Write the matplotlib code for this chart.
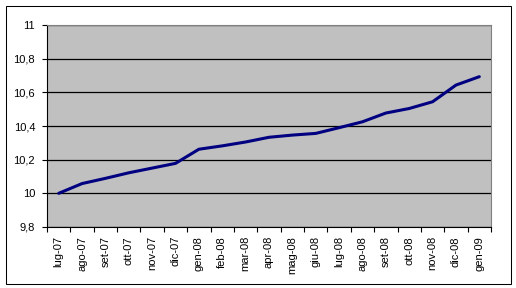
import matplotlib
matplotlib.use("Agg")
import matplotlib.pyplot as plt
from matplotlib.patches import Rectangle
import numpy as np

months = ["lug-07", "ago-07", "set-07", "ott-07", "nov-07", "dic-07", "gen-08",
          "feb-08", "mar-08", "apr-08", "mag-08", "giu-08", "lug-08", "ago-08",
          "set-08", "ott-08", "nov-08", "dic-08", "gen-09"]
values = [10.00, 10.058, 10.089, 10.122, 10.150, 10.178, 10.262,
          10.282, 10.305, 10.333, 10.346, 10.356, 10.390, 10.425,
          10.477, 10.504, 10.544, 10.643, 10.693]
yticks = [9.8, 10.0, 10.2, 10.4, 10.6, 10.8, 11.0]
ytick_labels = ["9,8", "10", "10,2", "10,4", "10,6", "10,8", "11"]

plt.rcParams['font.family'] = ['Liberation Sans', 'DejaVu Sans']
W, H = 516, 288
fig = plt.figure(figsize=(W / 100, H / 100), dpi=100)
fig.patch.set_facecolor("white")

# outer chart border
fig.add_artist(Rectangle((5.5 / W, 1 - 283.5 / H), 505 / W, 278 / H,
                         transform=fig.transFigure, fill=False,
                         edgecolor="black", linewidth=0.75))

ax = fig.add_axes([47 / W, 1 - 227 / H, 444 / W, 202 / H])
ax.set_facecolor("#C0C0C0")
x = np.arange(len(months))
ax.plot(x, values, color="#000080", linewidth=2.2, solid_capstyle="round", zorder=3)

ax.set_xlim(-0.5, len(months) - 0.5)
ax.set_ylim(9.8, 11.0)
ax.set_yticks(yticks)
ax.set_yticklabels(ytick_labels, fontsize=8)
ax.yaxis.grid(True, color="black", linewidth=0.9)
ax.set_axisbelow(True)

ax.set_xticks(np.arange(-0.5, len(months), 1.0))
ax.set_xticklabels([])
ax.set_xticks(x, minor=True)
ax.set_xticklabels(months, minor=True, rotation=90, fontsize=8)
ax.tick_params(axis="x", which="minor", length=0, pad=6.5)
ax.tick_params(axis="x", which="major", length=3.5, width=0.8, direction="out")
ax.tick_params(axis="y", length=3.5, width=0.8, direction="out", pad=5)

for s in ["top", "right"]:
    ax.spines[s].set_color("#808080")
    ax.spines[s].set_linewidth(0.8)
for s in ["left", "bottom"]:
    ax.spines[s].set_color("black")
    ax.spines[s].set_linewidth(0.8)

fig.savefig("out.png", dpi=100, facecolor="white")
